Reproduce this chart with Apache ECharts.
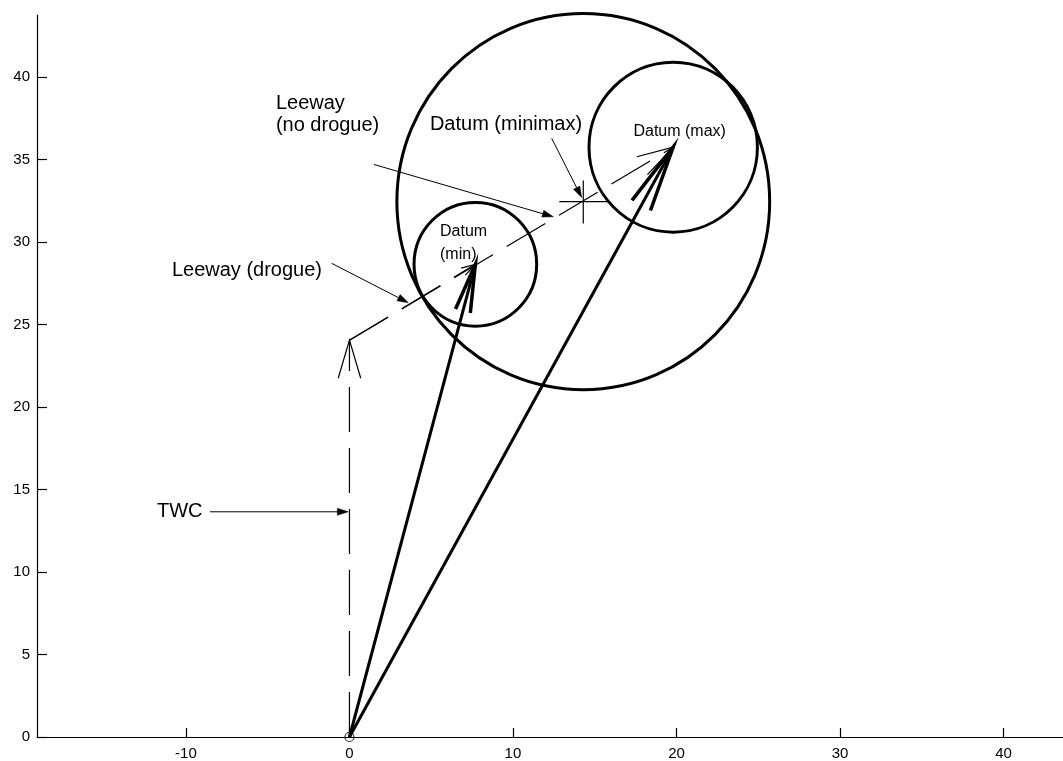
<!DOCTYPE html>
<html><head><meta charset="utf-8">
<script src="https://cdn.jsdelivr.net/npm/echarts@6/dist/echarts.min.js"></script>
<style>html,body{margin:0;padding:0;background:#fff}#c{width:1063px;height:761px}</style>
</head><body><div id="c"></div>
<script>
// ---- data ----
const xTicks = [-10, 0, 10, 20, 30, 40];
const yTicks = [0, 5, 10, 15, 20, 25, 30, 35, 40];
const origin = [0, 0];
const twcEnd = [0, 24.05];
const datumMin = [7.7, 28.65];
const datumMax = [19.8, 35.75];
const datumMinimax = [14.3, 32.45];
const circleCenters = [datumMinimax, datumMin, datumMax];
const circleRadii = [11.4, 3.75, 5.15];
// annotation labels: text, anchor (data coords)
const noteTexts = ['Datum (minimax)', 'Leeway', '(no drogue)', 'Leeway (drogue)', 'TWC'];
const noteAnchors = [[4.92, 37.1], [-4.5, 38.38], [-4.5, 37.08], [-10.86, 28.3], [-11.77, 13.64]];
const datumTexts = ['Datum (max)', 'Datum', '(min)'];
const datumAnchors = [[17.37, 36.67], [5.54, 30.64], [5.54, 29.24]];
// annotation pointer arrows: from -> to (data coords)
const pointerFrom = [[12.37, 36.28], [1.5, 34.7], [-1.09, 28.71], [-8.53, 13.65]];
const pointerTo = [[14.2, 32.7], [12.47, 31.53], [3.6, 26.32], [-0.07, 13.65]];

const FONT = '"Liberation Sans", Arial, Helvetica, sans-serif';

function vectorRender(opts) {
  return function (params, api) {
    const p0 = api.coord([api.value(0), api.value(1)]);
    const p1 = api.coord([api.value(2), api.value(3)]);
    const dx = p1[0] - p0[0], dy = p1[1] - p0[1];
    const len = Math.hypot(dx, dy);
    const back = Math.atan2(dy, dx) + Math.PI;
    const hl = len * opts.headRatio;
    const b1 = [p1[0] + hl * Math.cos(back + opts.headAngle), p1[1] + hl * Math.sin(back + opts.headAngle)];
    const b2 = [p1[0] + hl * Math.cos(back - opts.headAngle), p1[1] + hl * Math.sin(back - opts.headAngle)];
    return {
      type: 'group',
      children: [
        { type: 'line', shape: { x1: p0[0], y1: p0[1], x2: p1[0], y2: p1[1] },
          style: { stroke: '#000', lineWidth: opts.width, lineDash: opts.dash || null, fill: null } },
        { type: 'polyline', shape: { points: [b1, p1, b2] },
          style: { stroke: '#000', lineWidth: opts.headWidth, fill: null } }
      ]
    };
  };
}

function pointerRender(params, api) {
  const p0 = api.coord([api.value(0), api.value(1)]);
  const p1 = api.coord([api.value(2), api.value(3)]);
  const ang = Math.atan2(p1[1] - p0[1], p1[0] - p0[0]);
  const L = 11, W = 3.5;
  const bx = p1[0] - L * Math.cos(ang), by = p1[1] - L * Math.sin(ang);
  const nx = -Math.sin(ang) * W, ny = Math.cos(ang) * W;
  return {
    type: 'group',
    children: [
      { type: 'line', shape: { x1: p0[0], y1: p0[1], x2: bx, y2: by }, style: { stroke: '#000', lineWidth: 1 } },
      { type: 'polygon', shape: { points: [[p1[0], p1[1]], [bx + nx, by + ny], [bx - nx, by - ny]] }, style: { fill: '#000', stroke: '#000', lineWidth: 0.5 } }
    ]
  };
}

const chart = echarts.init(document.getElementById('c'), null, { renderer: 'canvas' });
chart.setOption({
  backgroundColor: '#fff',
  animation: false,
  grid: { left: 37, right: 0, top: 15, bottom: 24, containLabel: false },
  xAxis: {
    type: 'value', min: -19.11, max: 43.64,
    splitLine: { show: false },
    axisLine: { show: true, onZero: false, lineStyle: { color: '#000', width: 1.2 } },
    axisTick: { show: true, inside: true, length: 9, customValues: xTicks, lineStyle: { color: '#000', width: 1.2 } },
    axisLabel: { show: true, customValues: xTicks, color: '#000', fontSize: 15, fontFamily: FONT, margin: 9 }
  },
  yAxis: {
    type: 'value', min: 0, max: 43.76,
    splitLine: { show: false },
    axisLine: { show: true, onZero: false, lineStyle: { color: '#000', width: 1.2 } },
    axisTick: { show: true, inside: true, length: 10, customValues: yTicks, lineStyle: { color: '#000', width: 1.2 } },
    axisLabel: { show: true, customValues: yTicks, color: '#000', fontSize: 15, fontFamily: FONT, margin: 7 }
  },
  series: [
    { // circles
      type: 'custom', clip: false,
      data: circleCenters.map((c, i) => [c[0], c[1], circleRadii[i]]),
      renderItem: function (params, api) {
        const c = api.coord([api.value(0), api.value(1)]);
        const s = api.size([api.value(2), api.value(2)]);
        return { type: 'ellipse', shape: { cx: c[0], cy: c[1], rx: s[0], ry: s[1] },
          style: { fill: null, stroke: '#000', lineWidth: 3 } };
      }
    },
    { // TWC vector (dashed)
      type: 'custom', clip: false,
      data: [[origin[0], origin[1], twcEnd[0], twcEnd[1]]],
      renderItem: vectorRender({ width: 1.2, headWidth: 1.2, headRatio: 0.1, headAngle: 16.5 * Math.PI / 180, dash: [45, 16] })
    },
    { // leeway vectors (dashed)
      type: 'custom', clip: false,
      data: [[twcEnd[0], twcEnd[1], datumMin[0], datumMin[1]], [twcEnd[0], twcEnd[1], datumMax[0], datumMax[1]]],
      renderItem: vectorRender({ width: 1.2, headWidth: 1.2, headRatio: 0.1, headAngle: 16 * Math.PI / 180, dash: [45, 16] })
    },
    { // resultant drift vectors
      type: 'custom', clip: false,
      data: [[origin[0], origin[1], datumMin[0], datumMin[1]], [origin[0], origin[1], datumMax[0], datumMax[1]]],
      renderItem: vectorRender({ width: 3, headWidth: 3.5, headRatio: 0.1, headAngle: 9 * Math.PI / 180 })
    },
    { // origin marker
      type: 'scatter', data: [origin], symbol: 'circle', symbolSize: 9,
      itemStyle: { color: 'rgba(0,0,0,0)', borderColor: '#000', borderWidth: 1.2 }, z: 5
    },
    { // minimax cross
      type: 'custom', clip: false,
      data: [datumMinimax],
      renderItem: function (params, api) {
        const p = api.coord([api.value(0), api.value(1)]);
        return { type: 'group', children: [
          { type: 'line', shape: { x1: p[0] - 24, y1: p[1], x2: p[0] + 27, y2: p[1] }, style: { stroke: '#000', lineWidth: 1.2 } },
          { type: 'line', shape: { x1: p[0], y1: p[1] - 21, x2: p[0], y2: p[1] + 22 }, style: { stroke: '#000', lineWidth: 1.2 } }
        ] };
      }
    },
    { // pointer arrows
      type: 'custom', clip: false,
      data: pointerFrom.map((f, i) => [f[0], f[1], pointerTo[i][0], pointerTo[i][1]]),
      renderItem: pointerRender
    },
    { // annotation labels
      type: 'custom', clip: false,
      data: noteAnchors.map(a => [a[0], a[1]]),
      renderItem: function (params, api) {
        const i = params.dataIndex;
        const p = api.coord([api.value(0), api.value(1)]);
        return { type: 'text', x: p[0], y: p[1],
          style: { text: noteTexts[i], fill: '#000', font: '20px ' + FONT, align: 'left', verticalAlign: 'middle' } };
      }
    },
    { // datum labels
      type: 'custom', clip: false,
      data: datumAnchors.map(a => [a[0], a[1]]),
      renderItem: function (params, api) {
        const i = params.dataIndex;
        const p = api.coord([api.value(0), api.value(1)]);
        return { type: 'text', x: p[0], y: p[1],
          style: { text: datumTexts[i], fill: '#000', font: '16px ' + FONT, align: 'left', verticalAlign: 'middle' } };
      }
    }
  ]
});
</script>
</body></html>
